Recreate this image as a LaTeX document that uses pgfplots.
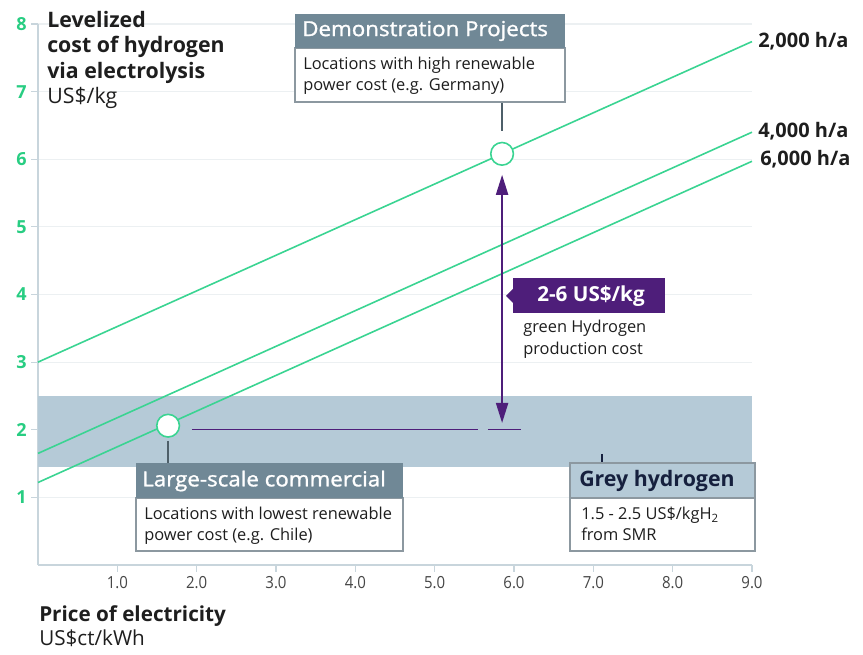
\documentclass[border=0pt]{standalone}
\usepackage{pgfplots}
\pgfplotsset{compat=1.18}
\usepackage{fontspec}
\setmainfont{Open Sans}
\newfontfamily\hdrfont[FakeStretch=1.08,FakeBold=1.3]{Open Sans}
\newfontfamily\tickfont[FakeStretch=0.9]{Open Sans}
\usetikzlibrary{arrows.meta}
\definecolor{lgreen}{RGB}{58,212,146}
\definecolor{tgreen}{RGB}{40,205,130}
\definecolor{band}{RGB}{181,202,215}
\definecolor{hdr}{RGB}{112,136,150}
\definecolor{purp}{RGB}{78,30,122}
\definecolor{gridc}{RGB}{236,240,242}
\definecolor{axc}{RGB}{200,213,220}
\definecolor{boxb}{RGB}{140,152,160}
\definecolor{navy}{RGB}{22,32,62}
\definecolor{txt}{RGB}{30,30,30}
\definecolor{ticktxt}{RGB}{70,70,70}
\begin{document}
\begin{tikzpicture}
\begin{scope}[x=0.75pt,y=-0.75pt,shift={(-28.5pt,423.75pt)}]
\useasboundingbox (0,0) rectangle (863,655);
\end{scope}
\begin{axis}[
  at={(0,0)}, anchor=south west,
  scale only axis, width=535.5pt, height=405.75pt,
  xmin=0, xmax=9, ymin=0, ymax=8,
  axis x line=bottom, axis y line=left,
  axis line style={-, draw=axc, line width=0.8pt},
  xtick={1,...,9}, ytick={1,...,8},
  tick style={draw=axc, line width=0.8pt},
  major tick length=5pt, tick align=outside,
  ymajorgrids, grid style={draw=gridc, line width=0.8pt},
  /pgf/number format/assume math mode=true,
  xticklabel={\pgfmathprintnumber[fixed,fixed zerofill,precision=1]{\tick}},
  xticklabel style={font=\tickfont\fontsize{12.5}{13}\selectfont, text=ticktxt},
  yticklabel style={font=\fontsize{13.5}{14}\selectfont\bfseries, text=tgreen},
  clip=false,
]
\addplot[fill=band, draw=none] coordinates {(0,1.45) (9,1.45) (9,2.5) (0,2.5)} -- cycle;
\addplot[lgreen, line width=1.2pt] coordinates {(0,3.0) (9,7.74)};
\addplot[lgreen, line width=1.2pt] coordinates {(0,1.65) (9,6.40)};
\addplot[lgreen, line width=1.2pt] coordinates {(0,1.22) (9,5.97)};
\addplot[purp, line width=1pt] coordinates {(1.94,2.0) (5.55,2.0)};
\addplot[purp, line width=1pt] coordinates {(5.67,2.0) (6.09,2.0)};
\addplot[purp, line width=1.5pt, {Triangle[width=9pt,length=15pt]}-{Triangle[width=9pt,length=15pt]}] coordinates {(5.85,5.77) (5.85,2.10)};
\addplot[only marks, mark=*, mark size=8.5pt, mark options={fill=white, draw=lgreen, line width=1.2pt}] coordinates {(1.64,2.06) (5.85,6.08)};
\end{axis}
\begin{scope}[x=0.75pt,y=-0.75pt,shift={(-28.5pt,423.75pt)}]
% title
\node[anchor=north west, align=left, inner sep=0, text=txt, font=\fontsize{16}{19}\selectfont] at (47,11)
  {\bfseries Levelized\\\bfseries cost of hydrogen\\\bfseries via electrolysis\\US\$/kg};
% bottom label
\node[anchor=north west, align=left, inner sep=0, text=txt, font=\fontsize{15.5}{18}\selectfont] at (39,605)
  {\bfseries Price of electricity\\US\$ct/kWh};
% right labels
\node[anchor=west, inner sep=0, text=txt, font=\fontsize{15}{16}\selectfont\bfseries] at (758,41) {2,000 h/a};
\node[anchor=west, inner sep=0, text=txt, font=\fontsize{15}{16}\selectfont\bfseries] at (758,131) {4,000 h/a};
\node[anchor=west, inner sep=0, text=txt, font=\fontsize{15}{16}\selectfont\bfseries] at (760,159) {6,000 h/a};
% Demonstration box
\draw[hdr!70!black, line width=0.8pt] (502,102) -- (502,131);
\draw[boxb, fill=white, line width=0.8pt] (295,48) rectangle (565,102);
\fill[hdr] (295,14) rectangle (565,48);
\node[anchor=west, inner sep=0, text=white, font=\hdrfont\fontsize{15.5}{16}\selectfont] at (302,31) {Demonstration Projects};
\node[anchor=north west, align=left, inner sep=0, text=txt, font=\fontsize{12.3}{15.5}\selectfont] at (303,57)
  {Locations with high renewable\\power cost (e.g. Germany)};
% Large-scale box
\draw[hdr!70!black, line width=0.8pt] (168,441) -- (168,463);
\draw[boxb, fill=white, line width=0.8pt] (136,498) rectangle (403,551);
\fill[hdr] (136,463) rectangle (403,498);
\node[anchor=west, inner sep=0, text=white, font=\hdrfont\fontsize{15.5}{16}\selectfont] at (142,481) {Large-scale commercial};
\node[anchor=north west, align=left, inner sep=0, text=txt, font=\fontsize{12.3}{15.5}\selectfont] at (144,507)
  {Locations with lowest renewable\\power cost (e.g. Chile)};
% Grey hydrogen box
\draw[navy, line width=0.8pt] (602,454) -- (602,463);
\draw[boxb, fill=white, line width=0.8pt] (570,498) rectangle (755,551);
\draw[boxb, fill=band, line width=0.8pt] (570,463) rectangle (755,498);
\node[anchor=west, inner sep=0, text=navy, font=\fontsize{16}{17}\selectfont\bfseries] at (579,481) {Grey hydrogen};
\node[anchor=north west, align=left, inner sep=0, text=txt, font=\fontsize{12.3}{15.5}\selectfont] at (581,507)
  {1.5 - 2.5 US\$/kgH\textsubscript{2}\\from SMR};
% purple label
\fill[purp] (513,278) rectangle (665,313);
\fill[purp] (506,296) -- (514,288) -- (514,304) -- cycle;
\node[anchor=center, inner sep=0, text=white, font=\fontsize{15.5}{16}\selectfont\bfseries] at (591,296) {2-6 US\$/kg};
\node[anchor=north west, align=left, inner sep=0, text=txt, font=\fontsize{12.3}{16.5}\selectfont] at (523,320)
  {green Hydrogen\\production cost};
\end{scope}
\end{tikzpicture}
\end{document}
